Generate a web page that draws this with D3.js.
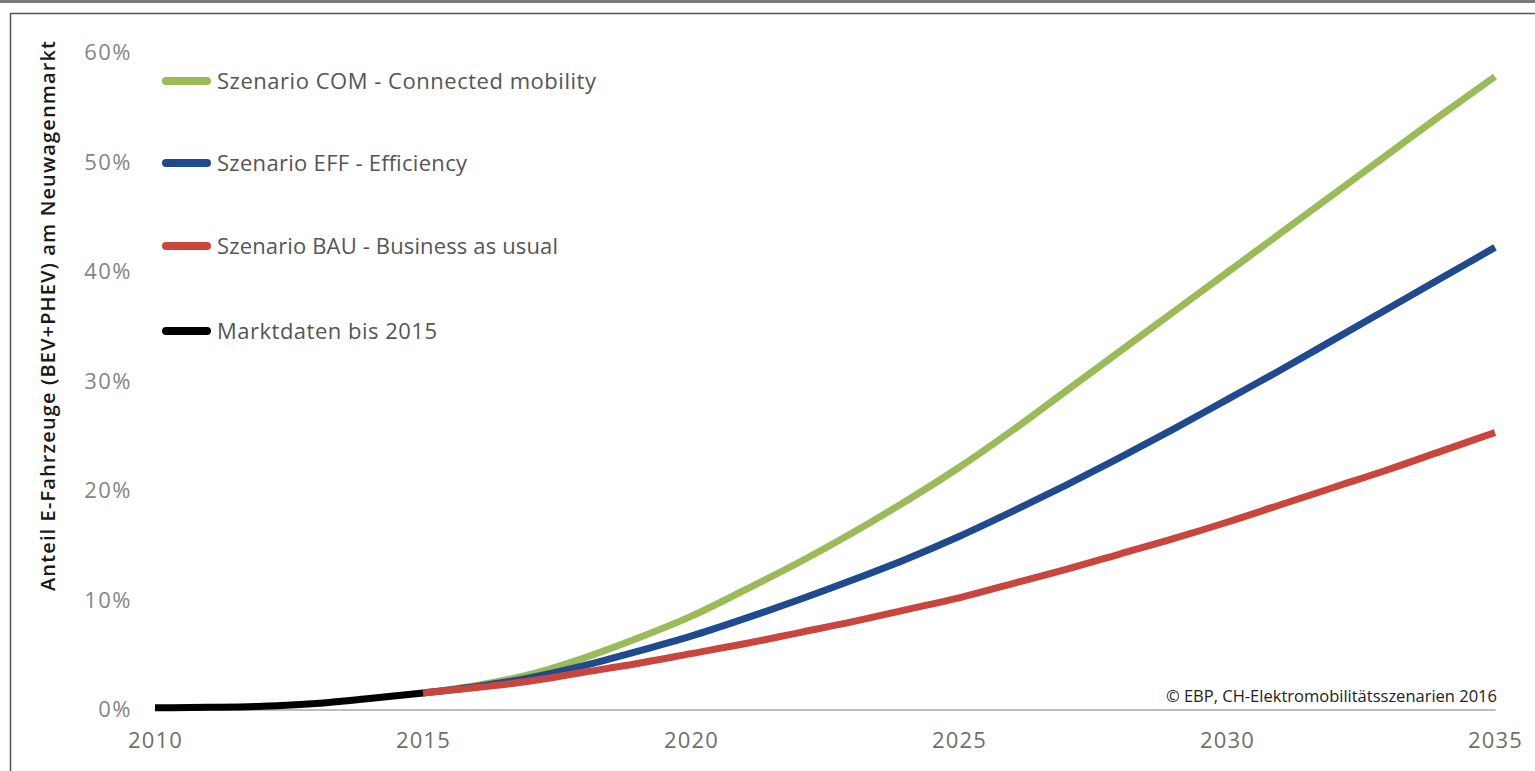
<!DOCTYPE html>
<html>
<head>
<meta charset="utf-8">
<script src="https://cdn.jsdelivr.net/npm/d3@7"></script>
<style>
  html, body { margin: 0; padding: 0; background: #fff; }
  svg { display: block; }
</style>
</head>
<body>
<svg id="chart" width="1535" height="771"></svg>
<script>
// ---- data ----
const marketYears = [2010, 2011, 2012, 2013, 2014, 2015];
const marketValues = [0.15, 0.2, 0.3, 0.55, 1.0, 1.5];

const scenarioYears = [2015, 2016, 2017, 2018, 2019, 2020, 2021, 2022, 2023, 2024, 2025,
                       2026, 2027, 2028, 2029, 2030, 2031, 2032, 2033, 2034, 2035];
const comValues = [1.5, 2.2, 3.2, 4.7, 6.5, 8.5, 10.9, 13.4, 16.1, 19.0, 22.1,
                   25.5, 29.1, 32.7, 36.3, 39.9, 43.5, 47.1, 50.7, 54.3, 57.8];
const effValues = [1.5, 2.1, 2.9, 4.0, 5.3, 6.7, 8.3, 10.0, 11.8, 13.7, 15.8,
                   18.1, 20.5, 23.0, 25.6, 28.3, 31.0, 33.8, 36.6, 39.4, 42.2];
const bauValues = [1.5, 2.0, 2.6, 3.4, 4.2, 5.1, 6.0, 7.0, 8.0, 9.1, 10.2,
                   11.5, 12.8, 14.2, 15.6, 17.1, 18.7, 20.3, 21.9, 23.6, 25.3];

const seriesNames = ["Szenario COM - Connected mobility", "Szenario EFF - Efficiency",
                     "Szenario BAU - Business as usual", "Marktdaten bis 2015"];
const seriesColors = ["#9BBB59", "#1F4A8D", "#C9463F", "#000000"];

const xTicks = [2010, 2015, 2020, 2025, 2030, 2035];
const yTicks = [0, 10, 20, 30, 40, 50, 60];
const yTitle = "Anteil E-Fahrzeuge (BEV+PHEV) am Neuwagenmarkt";
const sourceNote = "\u00A9 EBP, CH-Elektromobilit\u00E4tsszenarien 2016";

// ---- drawing ----
const svg = d3.select("#chart");
const FONT = "'Open Sans', 'Noto Sans', sans-serif";

// outer frame
svg.append("line").attr("x1", 0).attr("x2", 1535).attr("y1", 1.5).attr("y2", 1.5)
  .attr("stroke", "#7a7a7a").attr("stroke-width", 3);
svg.append("rect").attr("x", 10.5).attr("y", 13.5).attr("width", 1540).attr("height", 800)
  .attr("fill", "none").attr("stroke", "#555").attr("stroke-width", 1.5);

const x = d3.scaleLinear().domain([2010, 2035]).range([155, 1495]);
const y = d3.scaleLinear().domain([0, 60]).range([709.5, 52.5]);

// x axis
const xAxis = svg.append("g").attr("transform", `translate(0,${y(0)})`)
  .call(d3.axisBottom(x).tickValues(xTicks).tickFormat(d3.format("d")).tickSize(0).tickPadding(23));
xAxis.select(".domain").attr("stroke", "#a6a6a6").attr("stroke-width", 1.5);
xAxis.selectAll("text").attr("font-family", FONT).attr("font-size", 22)
  .attr("fill", "#6e6e6e").attr("letter-spacing", 1.2);

// y axis (labels only)
const yAxis = svg.append("g").attr("transform", `translate(132,0)`)
  .call(d3.axisLeft(y).tickValues(yTicks).tickFormat(d => d + "%").tickSize(0).tickPadding(0));
yAxis.select(".domain").remove();
yAxis.selectAll("text").attr("font-family", FONT).attr("font-size", 22)
  .attr("fill", "#858585").attr("letter-spacing", 1.5);

// y title
svg.append("text")
  .attr("transform", `translate(55,316) rotate(-90)`)
  .attr("text-anchor", "middle")
  .attr("font-family", FONT).attr("font-size", 20).attr("font-weight", 600)
  .attr("fill", "#1a1a1a")
  .attr("textLength", 550).attr("lengthAdjust", "spacing")
  .text(yTitle);

// lines
const line = d3.line().x(d => x(d[0])).y(d => y(d[1])).curve(d3.curveMonotoneX);
const seriesData = [
  d3.zip(scenarioYears, comValues),
  d3.zip(scenarioYears, effValues),
  d3.zip(scenarioYears, bauValues),
  d3.zip(marketYears, marketValues)
];
seriesData.forEach((data, i) => {
  svg.append("path").datum(data)
    .attr("d", line)
    .attr("fill", "none")
    .attr("stroke", seriesColors[i])
    .attr("stroke-width", 7)
    .attr("stroke-linecap", "butt")
    .attr("stroke-linejoin", "round");
});

// legend
const legendY = [81, 163, 246, 331];
const legendWidths = [379, 250, 341, 220];
seriesNames.forEach((name, i) => {
  const g = svg.append("g").attr("transform", `translate(0,${legendY[i]})`);
  g.append("line").attr("x1", 166).attr("x2", 207).attr("y1", 0).attr("y2", 0)
    .attr("stroke", seriesColors[i]).attr("stroke-width", 8).attr("stroke-linecap", "round");
  g.append("text").attr("x", 217).attr("y", 0).attr("dy", "0.35em")
    .attr("font-family", FONT).attr("font-size", 22)
    .attr("textLength", legendWidths[i]).attr("lengthAdjust", "spacing")
    .attr("fill", "#555").text(name);
});

// source note
svg.append("text").attr("x", 1497).attr("y", 696).attr("dy", "0.35em")
  .attr("text-anchor", "end")
  .attr("font-family", FONT).attr("font-size", 16.5)
  .attr("fill", "#222").text(sourceNote);
</script>
</body>
</html>
